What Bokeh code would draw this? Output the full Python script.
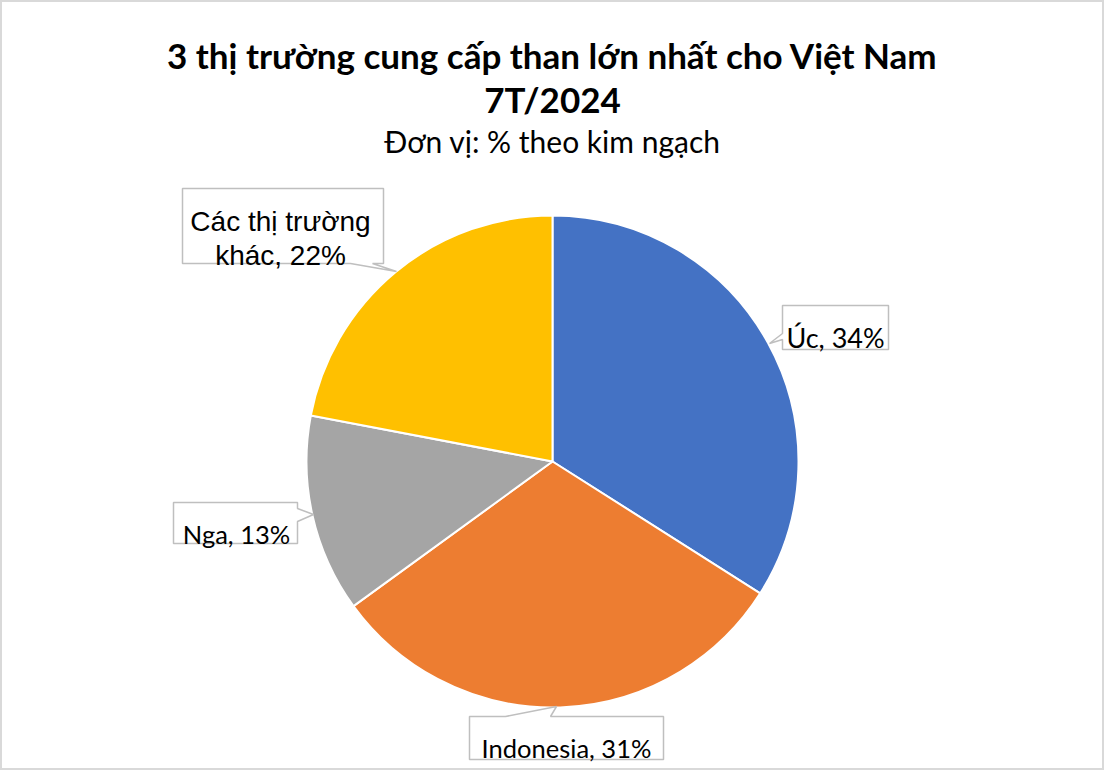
import numpy as np
from bokeh.plotting import figure
from bokeh.models import Range1d, ColumnDataSource
from bokeh.core.properties import value
from bokeh.embed import file_html
from bokeh.resources import INLINE

# ---- data ----
categories = ["Úc", "Indonesia", "Nga", "Các thị trường khác"]
shares = [34, 31, 13, 22]
colors = ["#4472C4", "#ED7D31", "#A5A5A5", "#FFC000"]
title_lines = ["3 thị trường cung cấp than lớn nhất cho Việt Nam", "7T/2024"]
subtitle = "Đơn vị: % theo kim ngạch"

# ---- layout (reference pixel coordinates) ----
W, H = 1104, 770
def Y(y):
    return H - y

p = figure(width=W, height=H, output_backend="svg", toolbar_location=None,
           x_range=Range1d(0, W), y_range=Range1d(0, H),
           min_border=0)
p.axis.visible = False
p.grid.visible = False
p.outline_line_color = "#d9d9d9"
p.outline_line_width = 3
p.background_fill_color = "white"
p.border_fill_color = "white"

cx, cy, R = 552, 461, 246
vals = np.array(shares, dtype=float)
frac = vals / vals.sum()
cum = np.cumsum(frac)
start = np.deg2rad(90 - 360 * (cum - frac))
end = np.deg2rad(90 - 360 * cum)
src = ColumnDataSource(dict(cat=categories, start=start, end=end, color=colors))
p.wedge(x=cx, y=Y(cy), radius=R, start_angle="start", end_angle="end",
        direction="clock", fill_color="color", line_color="white",
        line_width=2, source=src)

# ---- callout boxes ----
callouts = [
    [(782, 305), (888, 305), (888, 349), (782, 349), (782, 339), (769, 343), (782, 333)],
    [(469, 716), (505, 716), (556, 706), (550, 716), (663, 716), (663, 759), (469, 759)],
    [(173, 502), (297, 502), (297, 508), (313, 514), (297, 521), (297, 543), (173, 543)],
    [(182, 188), (383, 188), (383, 263), (372, 263), (396, 271), (350, 263), (182, 263)],
]
p.patches(xs=[[q[0] for q in c] for c in callouts],
          ys=[[Y(q[1]) for q in c] for c in callouts],
          fill_color="white", line_color="#bfbfbf", line_width=1.5)

pct = [f"{v}%" for v in shares]
lbl_font = value("Lato")
p.text(x=[835], y=[Y(337)], text=[f"{categories[0]}, {pct[0]}"], text_font=lbl_font,
       text_font_size="27px", text_align="center", text_baseline="alphabetic", text_color="black")
p.text(x=[566], y=[Y(747)], text=[f"{categories[1]}, {pct[1]}"], text_font=lbl_font,
       text_font_size="25.5px", text_align="center", text_baseline="alphabetic", text_color="black")
p.text(x=[236], y=[Y(533)], text=[f"{categories[2]}, {pct[2]}"], text_font=lbl_font,
       text_font_size="25.5px", text_align="center", text_baseline="alphabetic", text_color="black")
other_words = categories[3].split(" ")
p.text(x=[280, 280], y=[Y(221), Y(255)],
       text=[" ".join(other_words[:3]), f"{other_words[3]}, {pct[3]}"],
       text_font=value("Liberation Sans"), text_font_size="28px",
       text_align="center", text_baseline="alphabetic", text_color="black")

# ---- titles ----
p.text(x=[552, 552], y=[Y(54), Y(98)], text=title_lines, text_font=value("Lato"),
       text_font_style="bold", text_font_size="35px", text_align="center",
       text_baseline="alphabetic", text_color="black")
p.text(x=[552], y=[Y(140)], text=[subtitle], text_font=value("Lato"),
       text_font_size="30px", text_align="center", text_baseline="alphabetic",
       text_color="black")

open("out.html", "w").write(file_html(p, INLINE))
